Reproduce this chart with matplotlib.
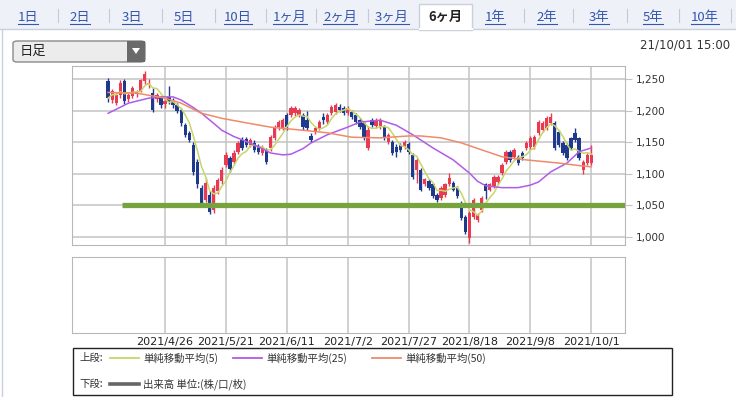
import matplotlib
matplotlib.use("Agg")
import matplotlib.pyplot as plt
from matplotlib.patches import Rectangle, FancyBboxPatch, Polygon
from matplotlib.lines import Line2D
import numpy as np
import pandas as pd

plt.rcParams['font.family'] = ['Noto Sans CJK JP', 'DejaVu Sans']

# ---- data ----
opens = [1247, 1217, 1213, 1225, 1247, 1218, 1223, 1226, 1232, 1247,
         1242, 1228, 1218, 1220, 1210, 1222, 1216, 1209, 1201, 1177,
         1165, 1146, 1119, 1078, 1059, 1067, 1043, 1072, 1088, 1114,
         1125, 1119, 1135, 1154, 1155, 1146, 1149, 1143, 1133, 1138,
         1141, 1157, 1174, 1173, 1193, 1193, 1196, 1193, 1193, 1185,
         1160, 1166, 1172, 1190, 1182, 1196, 1198, 1206, 1204, 1197,
         1198, 1193, 1185, 1180, 1141, 1185, 1176, 1174, 1174, 1150,
         1150, 1143, 1146, 1142, 1148, 1130, 1106, 1106, 1083, 1088,
         1083, 1067, 1062, 1067, 1083, 1086, 1078, 1054, 1032, 998,
         1032, 1027, 1043, 1083, 1075, 1080, 1087, 1101, 1118, 1134,
         1127, 1127, 1133, 1141, 1143, 1143, 1165, 1169, 1172, 1180,
         1180, 1166, 1149, 1146, 1156, 1164, 1156, 1106, 1117, 1117]
highs = [1252, 1234, 1228, 1248, 1250, 1228, 1240, 1233, 1251, 1263,
         1250, 1236, 1228, 1224, 1218, 1240, 1220, 1213, 1204, 1180,
         1168, 1150, 1123, 1082, 1094, 1072, 1082, 1094, 1110, 1134,
         1129, 1137, 1152, 1158, 1159, 1157, 1153, 1147, 1145, 1141,
         1161, 1178, 1186, 1189, 1197, 1208, 1208, 1205, 1197, 1200,
         1165, 1175, 1186, 1197, 1196, 1209, 1213, 1210, 1207, 1207,
         1201, 1196, 1188, 1183, 1176, 1188, 1188, 1189, 1177, 1164,
         1153, 1147, 1149, 1153, 1151, 1133, 1125, 1109, 1094, 1091,
         1086, 1070, 1080, 1086, 1102, 1089, 1081, 1057, 1035, 1041,
         1062, 1038, 1065, 1086, 1086, 1098, 1098, 1117, 1137, 1137,
         1141, 1130, 1136, 1152, 1160, 1161, 1185, 1183, 1191, 1196,
         1184, 1169, 1152, 1149, 1159, 1172, 1159, 1122, 1133, 1146]
lows = [1214, 1212, 1209, 1221, 1211, 1214, 1220, 1222, 1229, 1243,
        1236, 1198, 1214, 1205, 1204, 1211, 1205, 1196, 1176, 1158,
        1150, 1098, 1078, 1049, 1055, 1036, 1038, 1068, 1084, 1110,
        1103, 1115, 1131, 1138, 1143, 1143, 1134, 1131, 1130, 1115,
        1136, 1153, 1170, 1169, 1170, 1190, 1192, 1190, 1170, 1169,
        1150, 1163, 1169, 1179, 1179, 1193, 1195, 1198, 1193, 1194,
        1187, 1179, 1171, 1154, 1137, 1174, 1173, 1171, 1154, 1147,
        1130, 1126, 1135, 1139, 1132, 1092, 1086, 1072, 1080, 1075,
        1061, 1056, 1058, 1063, 1080, 1072, 1061, 1027, 1005, 990,
        1029, 1024, 1040, 1060, 1072, 1077, 1084, 1098, 1115, 1119,
        1124, 1114, 1122, 1138, 1140, 1140, 1162, 1166, 1169, 1177,
        1138, 1143, 1130, 1122, 1138, 1150, 1122, 1100, 1114, 1114]
closes = [1220, 1231, 1225, 1244, 1215, 1225, 1236, 1230, 1248, 1258,
          1244, 1201, 1225, 1209, 1215, 1215, 1209, 1199, 1180, 1162,
          1154, 1103, 1083, 1054, 1086, 1040, 1078, 1090, 1106, 1130,
          1107, 1133, 1149, 1141, 1146, 1153, 1138, 1135, 1141, 1119,
          1158, 1174, 1182, 1185, 1174, 1204, 1204, 1201, 1174, 1173,
          1153, 1172, 1182, 1185, 1193, 1206, 1209, 1201, 1196, 1204,
          1190, 1182, 1174, 1157, 1169, 1177, 1185, 1186, 1157, 1161,
          1133, 1135, 1138, 1150, 1135, 1095, 1122, 1075, 1091, 1078,
          1064, 1059, 1077, 1083, 1094, 1075, 1064, 1030, 1008, 1038,
          1059, 1035, 1062, 1072, 1083, 1095, 1095, 1114, 1134, 1122,
          1138, 1117, 1125, 1149, 1157, 1158, 1182, 1180, 1188, 1190,
          1141, 1146, 1133, 1125, 1141, 1153, 1125, 1119, 1130, 1130]

# 25-day and 50-day averages as read at sample positions (candle index, price)
ma25_idx = [0, 5, 10, 13, 16, 18, 21, 23, 26, 28, 31, 33, 37, 40, 43, 45, 48,
            50, 54, 59, 62, 67, 71, 75, 80, 85, 89, 91, 93, 97, 101, 104, 106,
            109, 113, 116, 119]
ma25_val = [1196, 1212, 1220, 1222, 1222, 1217, 1205, 1196, 1180, 1169, 1159,
            1154, 1143, 1133, 1130, 1131, 1140, 1149, 1162, 1174, 1182, 1185,
            1177, 1162, 1141, 1122, 1101, 1088, 1081, 1078, 1078, 1082, 1087,
            1103, 1117, 1135, 1141]
ma50_idx = [0, 7, 14, 18, 23, 28, 33, 40, 48, 54, 60, 67, 74, 77, 82, 87, 92,
            97, 103, 111, 116, 119]
ma50_val = [1229, 1228, 1220, 1212, 1196, 1188, 1182, 1174, 1169, 1165, 1158,
            1157, 1160, 1160, 1157, 1149, 1138, 1127, 1122, 1117, 1113, 1111]

date_idx = [14, 29, 44, 59, 74, 89, 104, 119]
date_labels = ['2021/4/26', '2021/5/21', '2021/6/11', '2021/7/2',
               '2021/7/27', '2021/8/18', '2021/9/8', '2021/10/1']
price_ticks = [1000, 1050, 1100, 1150, 1200, 1250]
support_level = 1050

tabs = ['1日', '2日', '3日', '5日', '10日', '1ヶ月', '2ヶ月', '3ヶ月',
        '6ヶ月', '1年', '2年', '3年', '5年', '10年']
selected_tab = '6ヶ月'

# ---- layout helpers (pixel -> figure fraction) ----
W, H = 736, 397
def fx(x):
    return x / W
def fy(y):
    return 1 - y / H

fig = plt.figure(figsize=(W / 100, H / 100), dpi=100)
fig.patch.set_facecolor('white')

UP = '#e83a50'
DOWN = '#1f3a8c'
GRID = '#c4c4c4'
EDGE = '#b8b8b8'

# tab bar
fig.add_artist(Rectangle((0, fy(29)), 1, 29 / H, transform=fig.transFigure,
                         facecolor='#eef1f7', edgecolor='none', zorder=0))
fig.add_artist(Line2D([fx(0), fx(736)], [fy(29), fy(29)], transform=fig.transFigure,
                      color='#c9cfdb', lw=1))
fig.add_artist(Line2D([fx(2), fx(2)], [fy(29), fy(397)], transform=fig.transFigure,
                      color='#c9cfdb', lw=1))
tab_x = [28, 80, 132, 184, 238, 290, 340, 392, 445, 495, 547, 599, 653, 705]
sep_x = [58, 109, 162, 215, 266, 316, 368, 524, 573, 627, 679, 731]
for sx in sep_x:
    fig.add_artist(Line2D([fx(sx), fx(sx)], [fy(9), fy(22)], transform=fig.transFigure,
                          color='#c5cad4', lw=0.8))
fig.add_artist(Rectangle((fx(419), fy(30)), 53 / W, 26 / H, transform=fig.transFigure,
                         facecolor='white', edgecolor='#c9cfdb', lw=1, zorder=1))
fig.add_artist(Line2D([fx(419.5), fx(471.5)], [fy(29), fy(29)], transform=fig.transFigure,
                      color='white', lw=1.5, zorder=2))
tab_texts = []
for tx, t in zip(tab_x, tabs):
    if t == selected_tab:
        fig.text(fx(tx), fy(17), t, ha='center', va='center', fontsize=9.5,
                 fontweight='bold', color='#222222', zorder=3)
    else:
        tt = fig.text(fx(tx), fy(17), t, ha='center', va='center', fontsize=9.5,
                      color='#3455b0', zorder=3)
        tab_texts.append(tt)

# dropdown
fig.add_artist(FancyBboxPatch((fx(13), fy(62)), 132 / W, 21 / H,
                              boxstyle='round,pad=0,rounding_size=0.006',
                              transform=fig.transFigure, facecolor='#ececec',
                              edgecolor='#8a8a8a', lw=1))
fig.add_artist(Rectangle((fx(127), fy(62)), 18 / W, 21 / H, transform=fig.transFigure,
                         facecolor='#6a6a6a', edgecolor='none'))
fig.add_artist(Polygon([[fx(132), fy(48)], [fx(140), fy(48)], [fx(136), fy(54)]],
                       closed=True, transform=fig.transFigure, facecolor='white',
                       edgecolor='none'))
fig.text(fx(20), fy(51.5), '日足', ha='left', va='center', fontsize=9.5, color='#222222')
fig.text(fx(730), fy(45), '21/10/01 15:00', ha='right', va='center', fontsize=8.5,
         color='#333333', family=['DejaVu Sans'])

# ---- price panel ----
ax = fig.add_axes([fx(72), fy(245), (625 - 72) / W, (245 - 66) / H])
xs = np.arange(len(closes))
o = np.array(opens)
c = np.array(closes)
colors = [UP if cc >= oo else DOWN for oo, cc in zip(o, c)]
ax.vlines(xs, lows, highs, colors=colors, lw=1, zorder=3)
body = np.maximum(np.abs(c - o), 1.5)
ax.bar(xs, body, bottom=np.minimum(o, c), width=0.82, color=colors, zorder=4,
       linewidth=0)

ma5 = pd.Series(closes).rolling(5, min_periods=1).mean()
ax.plot(xs, ma5, color='#c6d66a', lw=1.1, zorder=5)
ax.plot(ma25_idx, ma25_val, color='#b05ce6', lw=1.1, zorder=5)
ax.plot(ma50_idx, ma50_val, color='#ef8a6a', lw=1.1, zorder=5)

ax.hlines(support_level, 3.5, 200, color='#76a33e', lw=3.8, zorder=6)

ax.set_xlim(-8.9, 127.3)
ax.set_ylim(987, 1271)
ax.set_yticks(price_ticks)
ax.set_yticklabels([f'{v:,}' for v in price_ticks])
ax.set_xticks(date_idx)
ax.set_xticklabels([])
ax.yaxis.tick_right()
ax.tick_params(axis='y', length=5, color=GRID, labelsize=7.5, labelcolor='#333333', pad=3)
ax.tick_params(axis='x', length=0)
for lbl in ax.get_yticklabels():
    lbl.set_family(['DejaVu Sans'])
ax.grid(True, color=GRID, lw=1.1)
ax.set_axisbelow(True)
for sp in ax.spines.values():
    sp.set_color(EDGE)

# ---- volume panel (empty) ----
ax2 = fig.add_axes([fx(72), fy(333), (625 - 72) / W, (333 - 257) / H])
ax2.set_xlim(-8.9, 127.3)
ax2.set_ylim(0, 1)
ax2.set_yticks([])
ax2.set_xticks(date_idx)
ax2.set_xticklabels(date_labels, fontsize=8, color='#222222', family=['DejaVu Sans'])
ax2.tick_params(axis='x', length=0, pad=3)
ax2.grid(True, axis='x', color=GRID, lw=1.1)
for sp in ax2.spines.values():
    sp.set_color(EDGE)

# ---- legend box ----
fig.add_artist(Rectangle((fx(73), fy(395)), (672 - 73) / W, (395 - 348) / H,
                         transform=fig.transFigure, facecolor='white',
                         edgecolor='#222222', lw=1))
fig.text(fx(79), fy(358), '上段:', ha='left', va='center', fontsize=7.5, color='#333333')
fig.text(fx(79), fy(384), '下段:', ha='left', va='center', fontsize=7.5, color='#333333')
legend_items = [(110, '#c6d66a', '単純移動平均(5)'),
                (233, '#b05ce6', '単純移動平均(25)'),
                (372, '#ef8a6a', '単純移動平均(50)')]
for lx, col, lab in legend_items:
    fig.add_artist(Line2D([fx(lx), fx(lx + 29)], [fy(358), fy(358)],
                          transform=fig.transFigure, color=col, lw=1.3))
    fig.text(fx(lx + 33), fy(358), lab, ha='left', va='center', fontsize=7.5,
             color='#333333')
fig.add_artist(Line2D([fx(110), fx(139)], [fy(384), fy(384)], transform=fig.transFigure,
                      color='#666666', lw=2.6))
fig.text(fx(143), fy(384), '出来高 単位:(株/口/枚)', ha='left', va='center', fontsize=7.5,
         color='#333333')

# underline the link tabs
fig.canvas.draw()
r = fig.canvas.get_renderer()
for tt in tab_texts:
    bb = tt.get_window_extent(r)
    yy = fy(24)
    fig.add_artist(Line2D([bb.x0 / W, bb.x1 / W], [yy, yy], transform=fig.transFigure,
                          color='#3455b0', lw=0.8))

fig.savefig('out.png', dpi=100)
